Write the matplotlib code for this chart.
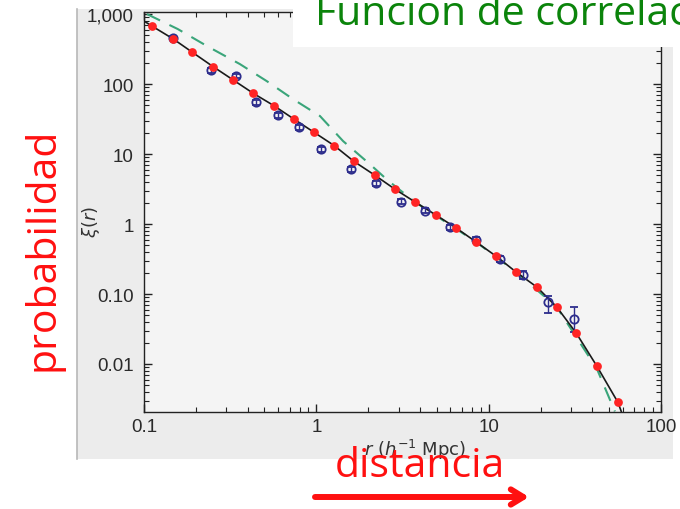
import matplotlib
matplotlib.use("Agg")
import matplotlib.pyplot as plt
from matplotlib.patches import Rectangle
from matplotlib.lines import Line2D
from matplotlib.ticker import FixedLocator, FixedFormatter, NullFormatter

# ---------------- data ----------------
red_r = [0.112, 0.148, 0.191, 0.252, 0.330, 0.431, 0.568, 0.741, 0.971, 1.27,
         1.65, 2.18, 2.85, 3.72, 4.93, 6.44, 8.41, 11.1, 14.5, 19.1,
         24.9, 32.2, 42.5, 56.2]
red_xi = [667, 440, 284, 177, 114, 73.6, 49, 31.6, 20.4, 13.2,
          7.87, 5.0, 3.16, 2.08, 1.35, 0.886, 0.559, 0.344, 0.204, 0.125,
          0.0646, 0.0277, 0.00927, 0.00284]

line_r = [0.1] + red_r + [58.8]
line_xi = [794] + red_xi + [0.0021]

blue_r = [0.148, 0.244, 0.344, 0.448, 0.601, 0.795, 1.07, 1.58, 2.23, 3.08,
          4.26, 5.94, 8.49, 11.6, 15.8, 22.1, 31.1]
blue_xi = [450, 158, 131, 54.8, 36.1, 24.1, 11.8, 6.1, 3.85, 2.08,
           1.55, 0.897, 0.597, 0.316, 0.187, 0.076, 0.044]
blue_err_lo = [30, 12, 10, 4.5, 3.0, 2.0, 1.0, 0.5, 0.3, 0.17,
               0.12, 0.07, 0.05, 0.03, 0.025, 0.0225, 0.0151]
blue_err_hi = [30, 12, 10, 4.5, 3.0, 2.0, 1.0, 0.5, 0.3, 0.17,
               0.12, 0.07, 0.05, 0.03, 0.025, 0.0186, 0.0206]

dm_r = [0.104, 0.157, 0.232, 0.360, 0.516, 0.731, 1.05, 1.43, 2.04, 2.6,
        3.72, 8.41, 14.5, 24.9, 42.5, 54.0]
dm_xi = [1000, 611, 349, 193, 110, 61.1, 34.9, 15.3, 7.2, 4.2,
         2.08, 0.559, 0.204, 0.0646, 0.0085, 0.0021]

y_ticks = [1000, 100, 10, 1, 0.1, 0.01]
y_labels = ["1,000", "100", "10", "1", "0.10", "0.01"]
x_ticks = [0.1, 1, 10, 100]
x_labels = ["0.1", "1", "10", "100"]

title_text = "Función de correlación"
ylab_text = "probabilidad"
xlab_text = "distancia"

# ---------------- figure ----------------
W, H = 680, 510
fig = plt.figure(figsize=(6.8, 5.1), dpi=100)
fig.patch.set_facecolor("white")

def fx(px):
    return px / W

def fy(py):
    return 1 - py / H

# gray picture panel
fig.add_artist(Rectangle((fx(77), fy(460)), fx(673) - fx(77), fy(10) - fy(460),
                         transform=fig.transFigure, facecolor="#ececec",
                         edgecolor="none", zorder=0))
fig.add_artist(Line2D([fx(77), fx(77)], [fy(460), fy(10)], transform=fig.transFigure,
                      color="#b8b8b8", lw=1.2, zorder=0.5))

ax = fig.add_axes([fx(144), fy(413), fx(661) - fx(144), fy(13.3) - fy(413)])
ax.set_facecolor("#f4f4f4")
ax.set_xscale("log")
ax.set_yscale("log")
ax.set_xlim(0.1, 100)
ax.set_ylim(0.00206, 1060)

ax.plot(dm_r, dm_xi, color="#3aa57a", lw=1.5, dashes=(7, 5), zorder=2)
ax.plot(line_r, line_xi, color="#1a1a1a", lw=1.2, zorder=3)
ax.errorbar(blue_r, blue_xi, yerr=[blue_err_lo, blue_err_hi], fmt="o",
            mfc="none", mec="#2d2d8c", ecolor="#2d2d8c", ms=6, mew=1.3,
            elinewidth=1.0, capsize=2.8, capthick=1.0, zorder=4)
ax.plot(red_r, red_xi, "o", color="#ff2424", ms=6.3, mec="none", zorder=5)

for s in ax.spines.values():
    s.set_color("#222222")
    s.set_linewidth(1.0)

ax.yaxis.set_major_locator(FixedLocator(y_ticks))
ax.yaxis.set_major_formatter(FixedFormatter(y_labels))
ax.xaxis.set_major_locator(FixedLocator(x_ticks))
ax.xaxis.set_major_formatter(FixedFormatter(x_labels))
ax.xaxis.set_minor_formatter(NullFormatter())
ax.yaxis.set_minor_formatter(NullFormatter())
ax.tick_params(which="both", direction="in", top=True, right=True,
               colors="#222222", labelcolor="#2a2a2a")
ax.tick_params(which="major", length=6, width=1.0, labelsize=13.5)
ax.tick_params(axis="y", which="major", pad=7.5)
ax.tick_params(axis="x", which="major", pad=4.5)
ax.tick_params(which="minor", length=3.5, width=0.8)
for lab in ax.get_xticklabels() + ax.get_yticklabels():
    lab.set_fontfamily("Liberation Sans")

# original axis labels of the pasted picture
fig.text(fx(91), fy(222), r"$\xi(r)$", rotation=90, ha="center", va="center",
         fontsize=13, color="#333333")
fig.text(fx(415), fy(450), r"$r\ (h^{-1}\ \mathrm{Mpc})$", ha="center", va="center",
         fontsize=13, color="#333333")

# white box for the title
fig.add_artist(Rectangle((fx(293), fy(48)), fx(680) - fx(293), fy(0) - fy(48),
                         transform=fig.transFigure, facecolor="white",
                         edgecolor="none", zorder=10))
fig.text(fx(315), fy(25), title_text, ha="left", va="baseline",
         fontsize=29.5, color="#0b840b", family="Open Sans", zorder=11)

fig.text(fx(43), fy(249), ylab_text, rotation=90, ha="center", va="center",
         fontsize=29.5, color="#ff1010", family="Open Sans", zorder=11)
fig.text(fx(420), fy(477), xlab_text, ha="center", va="baseline",
         fontsize=29.5, color="#ff1010", family="Open Sans", zorder=11)

arrow = plt.annotate("", xy=(fx(529), fy(498)), xytext=(fx(315), fy(498)),
                     xycoords="figure fraction", textcoords="figure fraction",
                     arrowprops=dict(arrowstyle="->,head_length=0.9,head_width=0.55",
                                     color="#ff1010", lw=4.3,
                                     shrinkA=0, shrinkB=0))
arrow.set_zorder(11)

fig.savefig("out.png", dpi=100, facecolor="white")
